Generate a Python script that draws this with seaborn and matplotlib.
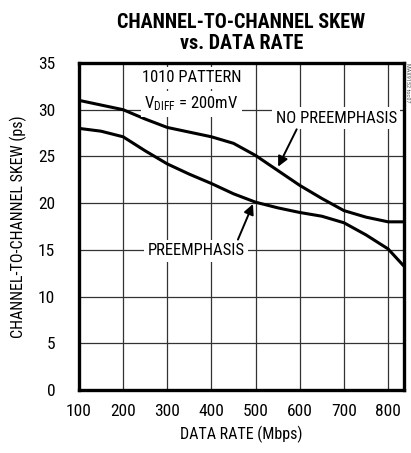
import pandas as pd
import seaborn as sns
import matplotlib.pyplot as plt

# values
data_rate = [100, 150, 200, 250, 300, 350, 400, 450, 500, 550, 600, 650, 700, 750, 800, 835]
skew_no_pre = [31.0, 30.5, 30.0, 29.0, 28.1, 27.6, 27.1, 26.4, 25.1, 23.5, 21.9, 20.5, 19.2, 18.5, 18.0, 18.0]
skew_pre = [28.0, 27.7, 27.1, 25.6, 24.2, 23.1, 22.1, 21.0, 20.1, 19.5, 19.0, 18.6, 17.9, 16.6, 15.1, 13.3]
x_ticks = [100, 200, 300, 400, 500, 600, 700, 800]
y_ticks = [0, 5, 10, 15, 20, 25, 30, 35]

df = pd.DataFrame({
    "rate": data_rate * 2,
    "skew": skew_no_pre + skew_pre,
    "mode": ["NO PREEMPHASIS"] * len(data_rate) + ["PREEMPHASIS"] * len(data_rate),
})

sns.set_style("white")
plt.rcParams["font.family"] = ["Roboto Condensed", "DejaVu Sans"]
plt.rcParams["text.color"] = "black"
plt.rcParams["axes.labelcolor"] = "black"
plt.rcParams["xtick.color"] = "black"
plt.rcParams["ytick.color"] = "black"
plt.rcParams["mathtext.default"] = "regular"

fig = plt.figure(figsize=(4.11, 4.53), dpi=100)
ax = fig.add_axes([0.192, 0.139, 0.791, 0.722])

sns.lineplot(data=df, x="rate", y="skew", units="mode", estimator=None,
             color="black", linewidth=2.2, ax=ax, legend=False)

ax.set_xlim(100, 836)
ax.set_ylim(0, 35)
ax.set_xticks(x_ticks)
ax.set_yticks(y_ticks)
ax.grid(True, color="#333333", linewidth=0.9)
ax.set_axisbelow(True)
for s in ax.spines.values():
    s.set_linewidth(2.4)
    s.set_color("black")
ax.tick_params(axis="x", length=0, labelsize=12.5, pad=10)
ax.tick_params(axis="y", length=0, labelsize=12.5, pad=17)
ax.set_xlabel("DATA RATE (Mbps)", fontsize=11.5, labelpad=5)
ax.set_ylabel("CHANNEL-TO-CHANNEL SKEW (ps)", fontsize=11.5, labelpad=8)

ax.set_title("CHANNEL-TO-CHANNEL SKEW\nvs. DATA RATE", fontsize=14.5,
             fontweight="heavy", linespacing=1.15, pad=10)

box = dict(facecolor="white", edgecolor="none", pad=2.5)
ax.text(355, 33.4, "1010 PATTERN", ha="center", va="center", fontsize=12, bbox=box)
ax.text(355, 30.6, "V$_{DIFF}$ = 200mV", ha="center", va="center",
        fontsize=12, bbox=box)
ax.text(683, 29.1, "NO PREEMPHASIS", ha="center", va="center", fontsize=12, bbox=box)
ax.text(366, 14.9, "PREEMPHASIS", ha="center", va="center", fontsize=12, bbox=box)

arrow = dict(arrowstyle="-|>", color="black", lw=1.4, shrinkA=0, shrinkB=0,
             mutation_scale=15)
ax.annotate("", xy=(551, 23.9), xytext=(593, 27.9), arrowprops=arrow)
ax.annotate("", xy=(494, 19.9), xytext=(460, 16.1), arrowprops=arrow)

fig.text(0.997, 0.86, "MAX9152 toc07", rotation=270, fontsize=4.5,
         color="#555555", ha="right", va="top")

fig.savefig("out.png", dpi=100)
